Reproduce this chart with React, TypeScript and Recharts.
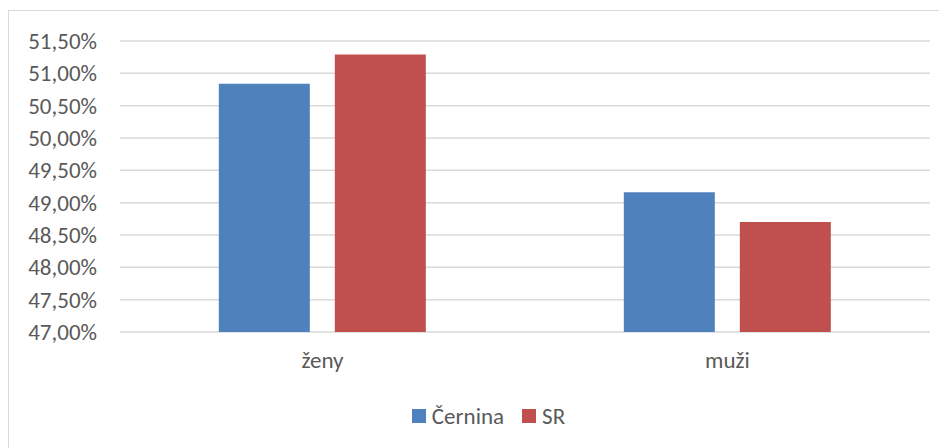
import React from 'react';
import { BarChart, Bar, XAxis, YAxis, CartesianGrid, Legend } from 'recharts';

const categories = ['ženy', 'muži'];
const cernina = [50.84, 49.16];
const sr = [51.29, 48.7];
const yTicks = [47, 47.5, 48, 48.5, 49, 49.5, 50, 50.5, 51, 51.5];

const data = categories.map((c, i) => ({ name: c, cernina: cernina[i], sr: sr[i] }));

const FONT = 'Carlito, Lato, sans-serif';
const TEXT = '#595959';
const BLUE = '#4F81BD';
const RED = '#C0504D';

const fmt = (v: number) => v.toFixed(2).replace('.', ',') + '%';

const LegendContent = () => (
  <div style={{ display: 'flex', justifyContent: 'center', alignItems: 'center', fontFamily: FONT, fontSize: 23, color: TEXT, paddingLeft: 22 }}>
    <span style={{ display: 'inline-block', width: 14, height: 14, background: BLUE, marginRight: 6 }} />
    <span style={{ marginRight: 18 }}>Černina</span>
    <span style={{ display: 'inline-block', width: 14, height: 14, background: RED, marginRight: 6 }} />
    <span>SR</span>
  </div>
);

export default function App() {
  return (
    <div style={{ marginTop: 2, width: 939, height: 445, border: '1px solid #d9d9d9', boxSizing: 'border-box', background: '#fff' }}>
      <BarChart
        width={937}
        height={443}
        data={data}
        margin={{ top: 30, right: 16, left: 0, bottom: 92 }}
        barCategoryGap="24.4%"
        barGap={25}
      >
        <CartesianGrid vertical={false} stroke="#d9d9d9" strokeWidth={1.5} />
        <XAxis
          dataKey="name"
          axisLine={false}
          tickLine={false}
          tickSize={0}
          tickMargin={20}
          tick={{ fill: TEXT, fontSize: 23, fontFamily: FONT }}
        />
        <YAxis
          width={111}
          domain={[47, 51.5]}
          ticks={yTicks}
          interval={0}
          axisLine={false}
          tickLine={false}
          tickSize={0}
          tickMargin={23}
          tickFormatter={fmt}
          tick={{ fill: TEXT, fontSize: 23, fontFamily: FONT }}
        />
        <Legend
          verticalAlign="middle"
          layout="horizontal"
          content={<LegendContent />}
          wrapperStyle={{ position: 'absolute', top: 391, left: 0, width: 937 }}
        />
        <Bar dataKey="cernina" name="Černina" fill={BLUE} isAnimationActive={false} />
        <Bar dataKey="sr" name="SR" fill={RED} isAnimationActive={false} />
      </BarChart>
    </div>
  );
}
